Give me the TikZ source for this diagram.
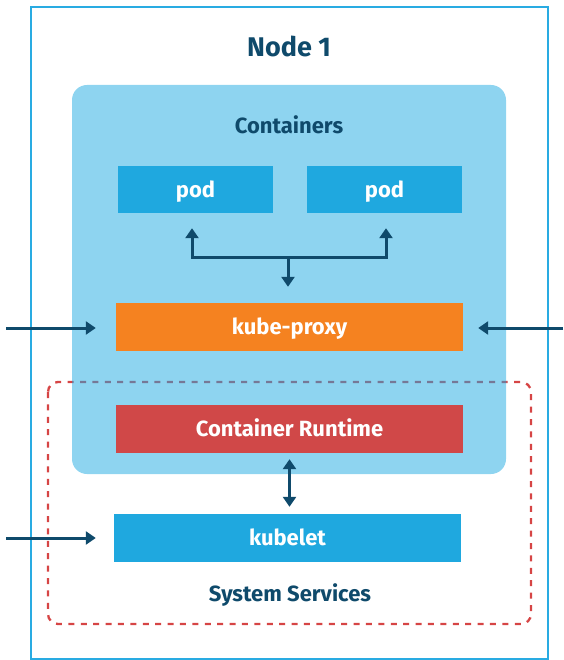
\documentclass[tikz,border=0pt]{standalone}
\usepackage{fontspec}
\setmainfont{Fira Sans}
\usetikzlibrary{arrows.meta,calc}

\definecolor{framecol}{HTML}{29ABE2}
\definecolor{paneblue}{HTML}{8ED4F0}
\definecolor{boxblue}{HTML}{1FA8DF}
\definecolor{proxyorange}{HTML}{F58220}
\definecolor{runtimered}{HTML}{D04848}
\definecolor{inkblue}{HTML}{0F4A6B}
\definecolor{dashred}{HTML}{D64545}
\definecolor{dashmuted}{HTML}{767896}

\tikzset{
  block/.style={draw=none, minimum height=48pt, inner sep=0pt,
    text height=20pt, text depth=5pt,
    text=white, font=\fontsize{22}{26}\selectfont\bfseries},
  heading/.style={text=inkblue, font=\fontsize{22}{26}\selectfont\bfseries},
  link/.style={draw=inkblue, line width=3pt,
    -{Triangle[width=13pt,length=10pt]}},
  duallink/.style={link, {Triangle[width=13pt,length=10pt]}-{Triangle[width=13pt,length=10pt]}},
  servicebox/.style={draw, dashed, line width=2.3pt, dash pattern=on 6pt off 6.4pt,
    rounded corners=10pt},
}

\begin{document}
\begin{tikzpicture}[x=1pt, y=-1pt]
  \useasboundingbox (0,0) rectangle (563,660);

  % node frame
  \draw[framecol, line width=2.5pt] (31,7) rectangle (548,659);
  \node[text=inkblue, font=\fontsize{27}{32}\selectfont\bfseries] (title) at (289,46) {Node 1};

  % system services boundary (drawn first, pane goes over it)
  \draw[servicebox, dashred] (48,382) rectangle (531,624);

  % containers pane
  \fill[paneblue, rounded corners=15pt] (72,85) rectangle (506,474);
  \begin{scope}
    \clip[rounded corners=15pt] (72,85) rectangle (506,474);
    \draw[servicebox, dashmuted] (48,382) rectangle (531,624);
  \end{scope}
  \node[heading] (containers) at (289,125) {Containers};

  % blocks
  \node[block, fill=boxblue, minimum width=155pt, minimum height=47pt] (pod1) at (195.5,189.5) {pod};
  \node[block, fill=boxblue, minimum width=155pt, minimum height=47pt] (pod2) at (384.5,189.5) {pod};
  \node[block, fill=proxyorange, minimum width=347pt] (proxy) at (289.5,327) {kube-proxy};
  \node[block, fill=runtimered, minimum width=347pt] (runtime) at (289.5,429) {Container Runtime};
  \node[block, fill=boxblue, minimum width=347pt] (kubelet) at (287.5,538) {kubelet};
  \node[heading] (services) at (290,595) {System Services};

  % pod fan-out
  \coordinate (hub) at (288,257);
  \draw[link] (hub) -| ($(pod1.south)+(-3.5,15)$);
  \draw[link] (hub) -| ($(pod2.south)+(1.5,15)$);
  \draw[link, shorten >=16pt] (hub) -- (hub |- proxy.north);

  % runtime <-> kubelet
  \draw[duallink, shorten <=6pt, shorten >=7pt] (runtime.south) -- (runtime.south |- kubelet.north);

  % external traffic
  \coordinate (inL) at (6,328);
  \coordinate (inR) at (563,328);
  \coordinate (inK) at (6,538);
  \draw[link, shorten >=20pt] (inL) -- (inL -| proxy.west);
  \draw[link, shorten >=15pt] (inR) -- (inR -| proxy.east);
  \draw[link, shorten >=18pt] (inK) -- (inK -| kubelet.west);
\end{tikzpicture}
\end{document}
